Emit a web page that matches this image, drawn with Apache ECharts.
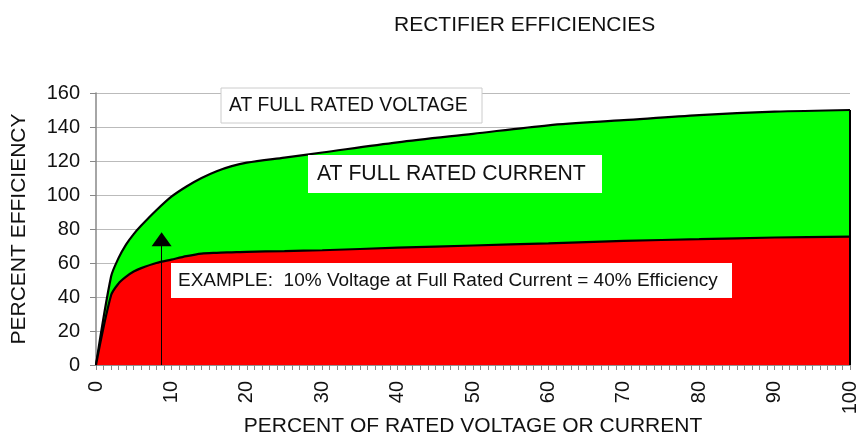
<!DOCTYPE html>
<html>
<head>
<meta charset="utf-8">
<script src="https://cdn.jsdelivr.net/npm/echarts@6/dist/echarts.min.js"></script>
<style>html,body{margin:0;padding:0;background:#fff}#c{width:868px;height:433px}</style>
</head>
<body>
<div id="c"></div>
<script>
var xValues = [0, 2, 3, 4, 5, 6, 8, 10, 12, 14, 16, 18, 20, 25, 30, 40, 50, 60, 70, 80, 90, 100];
var voltageEff = [0, 52, 63, 71, 77, 82, 91, 99, 105, 110, 114, 117, 119, 122, 125, 131, 136, 141, 144, 147, 149, 150];
var currentEff = [0, 41, 48, 52, 55, 57, 60, 62, 64, 65.5, 66, 66.3, 66.6, 67, 67.5, 69, 70.3, 71.6, 73, 74, 75, 75.5];
var xTicks = [0, 10, 20, 30, 40, 50, 60, 70, 80, 90, 100];
var yTicks = [0, 20, 40, 60, 80, 100, 120, 140, 160];
var arrowX = 8.7, arrowTop = 78;

var FONT = 'Liberation Sans, Arial, sans-serif';
function pairs(xs, ys) { return xs.map(function (x, i) { return [x, ys[i]]; }); }

var chart = echarts.init(document.getElementById('c'));
chart.setOption({
  animation: false,
  backgroundColor: '#fff',
  title: {
    text: 'RECTIFIER EFFICIENCIES',
    left: 389, top: 10,
    textStyle: { fontFamily: FONT, fontSize: 21, fontWeight: 'normal', color: '#111' }
  },
  grid: { left: 96, right: 18, top: 93, bottom: 68, outerBoundsMode: 'none', containLabel: false },
  xAxis: {
    type: 'value', min: 0, max: 100, interval: 10,
    name: 'PERCENT OF RATED VOLTAGE OR CURRENT',
    nameLocation: 'middle', nameGap: 51, nameMoveOverlap: false,
    nameTextStyle: { fontFamily: FONT, fontSize: 21, color: '#111' },
    axisLine: { show: true, lineStyle: { color: '#888', width: 1.5 } },
    axisTick: { show: true, length: 5, lineStyle: { color: '#888' } },
    minorTick: { show: true, splitNumber: 10, length: 5, lineStyle: { color: '#888' } },
    splitLine: { show: false },
    axisLabel: {
      rotate: 90, margin: 16, fontFamily: FONT, fontSize: 20, color: '#111',
      formatter: function (v) { return xTicks.indexOf(v) >= 0 ? String(v) : ''; }
    }
  },
  yAxis: {
    type: 'value', min: 0, max: 160, interval: 20,
    name: 'PERCENT EFFICIENCY',
    nameLocation: 'middle', nameGap: 66, nameMoveOverlap: false,
    nameTextStyle: { fontFamily: FONT, fontSize: 21, color: '#111' },
    axisLine: { show: true, lineStyle: { color: '#888', width: 1.5 } },
    axisTick: { show: true, length: 6, lineStyle: { color: '#888' } },
    splitLine: { show: true, lineStyle: { color: '#bbb', width: 1.2 } },
    axisLabel: {
      margin: 16, fontFamily: FONT, fontSize: 20, color: '#111',
      formatter: function (v) { return yTicks.indexOf(v) >= 0 ? String(v) : ''; }
    }
  },
  series: [
    {
      name: 'AT FULL RATED VOLTAGE', type: 'line', data: pairs(xValues, voltageEff),
      smooth: 0.3, symbol: 'none', z: 2,
      lineStyle: { color: '#000', width: 2.2 },
      areaStyle: { color: '#00ff00', opacity: 1 }
    },
    {
      name: 'AT FULL RATED CURRENT', type: 'line', data: pairs(xValues, currentEff),
      smooth: 0.3, symbol: 'none', z: 3,
      lineStyle: { color: '#000', width: 2.2 },
      areaStyle: { color: '#ff0000', opacity: 1 },
      markLine: {
        silent: true, symbol: ['none', 'triangle'], symbolSize: [20, 14],
        label: { show: false },
        lineStyle: { color: '#000', width: 1, type: 'solid' },
        data: [[{ coord: [arrowX, 0] }, { coord: [arrowX, arrowTop - 4] }]]
      }
    },
    {
      name: 'edge', type: 'line', symbol: 'none', z: 4,
      data: [[100, 0], [100, voltageEff[voltageEff.length - 1]]],
      lineStyle: { color: '#000', width: 2 }
    }
  ],
  graphic: [
    {
      type: 'rect', z: 100,
      shape: { x: 221, y: 88, width: 261, height: 35 },
      style: { fill: '#fff', stroke: '#ccc', lineWidth: 1 }
    },
    {
      type: 'text', z: 101,
      style: { x: 229, y: 106, text: 'AT FULL RATED VOLTAGE', font: '19.3px ' + FONT, fill: '#111', verticalAlign: 'middle' }
    },
    {
      type: 'rect', z: 100,
      shape: { x: 308, y: 155, width: 294, height: 38 },
      style: { fill: '#fff' }
    },
    {
      type: 'text', z: 101,
      style: { x: 317, y: 174, text: 'AT FULL RATED CURRENT', font: '21.2px ' + FONT, fill: '#111', verticalAlign: 'middle' }
    },
    {
      type: 'rect', z: 100,
      shape: { x: 171, y: 263, width: 561, height: 35 },
      style: { fill: '#fff' }
    },
    {
      type: 'text', z: 101,
      style: { x: 178, y: 281, text: 'EXAMPLE:  10% Voltage at Full Rated Current = 40% Efficiency', font: '19px ' + FONT, fill: '#111', verticalAlign: 'middle' }
    }
  ]
});
</script>
</body>
</html>
